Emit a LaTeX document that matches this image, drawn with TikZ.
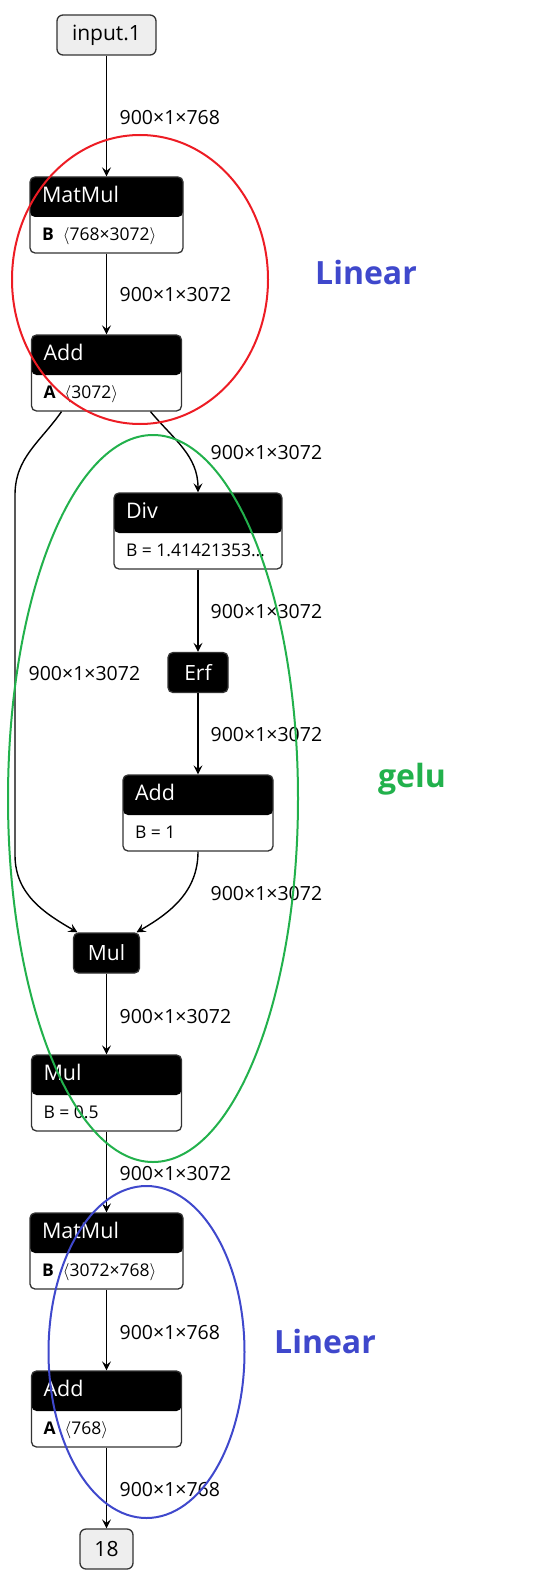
\documentclass[tikz,border=0pt]{standalone}
\usepackage{fontspec}
\setmainfont{Open Sans}
\usetikzlibrary{arrows.meta, shapes.geometric}
\definecolor{cdark}{HTML}{333333}
\definecolor{cio}{HTML}{EEEEEE}
\definecolor{cred}{HTML}{ED1C24}
\definecolor{cgreen}{HTML}{22B14C}
\definecolor{cblue}{HTML}{3F48CC}
\tikzset{
  every picture/.style={line width=1.3pt},
  opbox/.style={draw=cdark, fill=white, rounded corners=5pt, inner sep=0pt, minimum width=#1, minimum height=76pt,
    path picture={\fill[black] (path picture bounding box.north west) rectangle ([yshift=-40pt]path picture bounding box.north east);}},
  opbox/.default=150pt,
  opsmall/.style={draw=cdark, fill=black, text=white, rounded corners=5pt, inner sep=0pt, minimum width=#1, minimum height=40pt, font=\fontsize{21}{24}\selectfont},
  io/.style={draw=cdark, fill=cio, rounded corners=6pt, inner sep=0pt, minimum width=#1, minimum height=40pt, font=\fontsize{21}{24}\selectfont},
  opname/.style={anchor=base west, inner sep=0pt, text=white, font=\fontsize{21.5}{24}\selectfont},
  attr/.style={anchor=base west, inner sep=0pt, font=\fontsize{17.5}{20}\selectfont},
  dims/.style={anchor=west, inner sep=0pt, font=\fontsize{19.5}{22}\selectfont},
  edge/.style={-{Stealth[length=9pt, width=9pt, inset=3.5pt]}, line width=1.4pt},
  group/.style={ellipse, draw=#1, line width=2pt, inner sep=0pt},
  grouptxt/.style={text=#1, font=\bfseries\fontsize{32}{36}\selectfont},
}

\begin{document}
\begin{tikzpicture}[x=1pt, y=-1pt]
  \useasboundingbox (0,0) rectangle (536,1586);
  % nodes
  \node[io=99pt] (in1) at (106.5,35) {input.1};
  \node[opbox=153pt] (mm1) at (106.5,215) {};
  \node[opname] (mm1h) at ([shift={(12,26)}]mm1.north west) {MatMul};
  \node[attr] (mm1a) at ([shift={(12,64)}]mm1.north west) {\textbf{B}\ \ $\langle$768×3072$\rangle$};
  \node[opbox] (add1) at (106.5,373) {};
  \node[opname] (add1h) at ([shift={(12,26)}]add1.north west) {Add};
  \node[attr] (add1a) at ([shift={(12,64)}]add1.north west) {\textbf{A}\ \ $\langle$3072$\rangle$};
  \node[opbox=168pt] (div) at (198,531) {};
  \node[opname] (divh) at ([shift={(12,26)}]div.north west) {Div};
  \node[attr] (diva) at ([shift={(12,64)}]div.north west) {B = 1.41421353…};
  \node[opsmall=60pt] (erf) at (198,672.5) {Erf};
  \node[opbox] (add2) at (198,813) {};
  \node[opname] (add2h) at ([shift={(12,26)}]add2.north west) {Add};
  \node[attr] (add2a) at ([shift={(12,64)}]add2.north west) {B = 1};
  \node[opsmall=66pt] (mul1) at (106.5,953) {Mul};
  \node[opbox] (mul2) at (106.5,1093) {};
  \node[opname] (mul2h) at ([shift={(12,26)}]mul2.north west) {Mul};
  \node[attr] (mul2a) at ([shift={(12,64)}]mul2.north west) {B = 0.5};
  \node[opbox=153pt] (mm2) at (106.5,1251) {};
  \node[opname] (mm2h) at ([shift={(12,26)}]mm2.north west) {MatMul};
  \node[attr] (mm2a) at ([shift={(12,64)}]mm2.north west) {\textbf{B}\ \ $\langle$3072×768$\rangle$};
  \node[opbox] (add3) at (106.5,1409) {};
  \node[opname] (add3h) at ([shift={(12,26)}]add3.north west) {Add};
  \node[attr] (add3a) at ([shift={(12,64)}]add3.north west) {\textbf{A}\ \ $\langle$768$\rangle$};
  \node[io=53pt] (out) at (106.5,1549) {18};

  % edges
  \coordinate (lt) at (15,495);
  \coordinate (lb) at (15,855);
  \draw[edge] (in1) -- (mm1);
  \draw[edge] (mm1) -- (add1);
  \draw[edge] ([xshift=44pt]add1.south) to[out=-50, in=90] (div.north);
  \draw[edge] ([xshift=-45pt]add1.south) to[out=-125, in=90] (lt) -- (lb) to[out=-90, in=150] ([xshift=-29pt]mul1.north);
  \draw[edge] (div) -- (erf);
  \draw[edge] (erf) -- (add2);
  \draw[edge] (add2.south) to[out=-90, in=30] ([xshift=30pt]mul1.north);
  \draw[edge] (mul1) -- (mul2);
  \draw[edge] (mul2) -- (mm2);
  \draw[edge] (mm2) -- (add3);
  \draw[edge] (add3) -- (out);

  % tensor shapes
  \node[dims] (e1) at (119,118) {900×1×768};
  \node[dims] (e2) at (119,295) {900×1×3072};
  \node[dims] (e3) at (210,453) {900×1×3072};
  \node[dims] (e4) at (28,674) {900×1×3072};
  \node[dims] (e5) at (210,612) {900×1×3072};
  \node[dims] (e6) at (210,735) {900×1×3072};
  \node[dims] (e7) at (210,894) {900×1×3072};
  \node[dims] (e8) at (119,1017) {900×1×3072};
  \node[dims] (e9) at (119,1174) {900×1×3072};
  \node[dims] (e10) at (119,1333) {900×1×768};
  \node[dims] (e11) at (119,1490) {900×1×768};

  % groups
  \node[group=cred, minimum width=256pt, minimum height=289pt] (lin1) at (140,279.5) {};
  \node[group=cgreen, minimum width=290pt, minimum height=727pt] (gelu) at (153,798.5) {};
  \node[group=cblue, minimum width=196pt, minimum height=332pt] (lin2) at (146.5,1352) {};
  \node[grouptxt=cblue] (lin1t) at (366,273) {Linear};
  \node[grouptxt=cgreen] (gelut) at (412,779) {gelu};
  \node[grouptxt=cblue] (lin2t) at (325,1341) {Linear};
\end{tikzpicture}
\end{document}
